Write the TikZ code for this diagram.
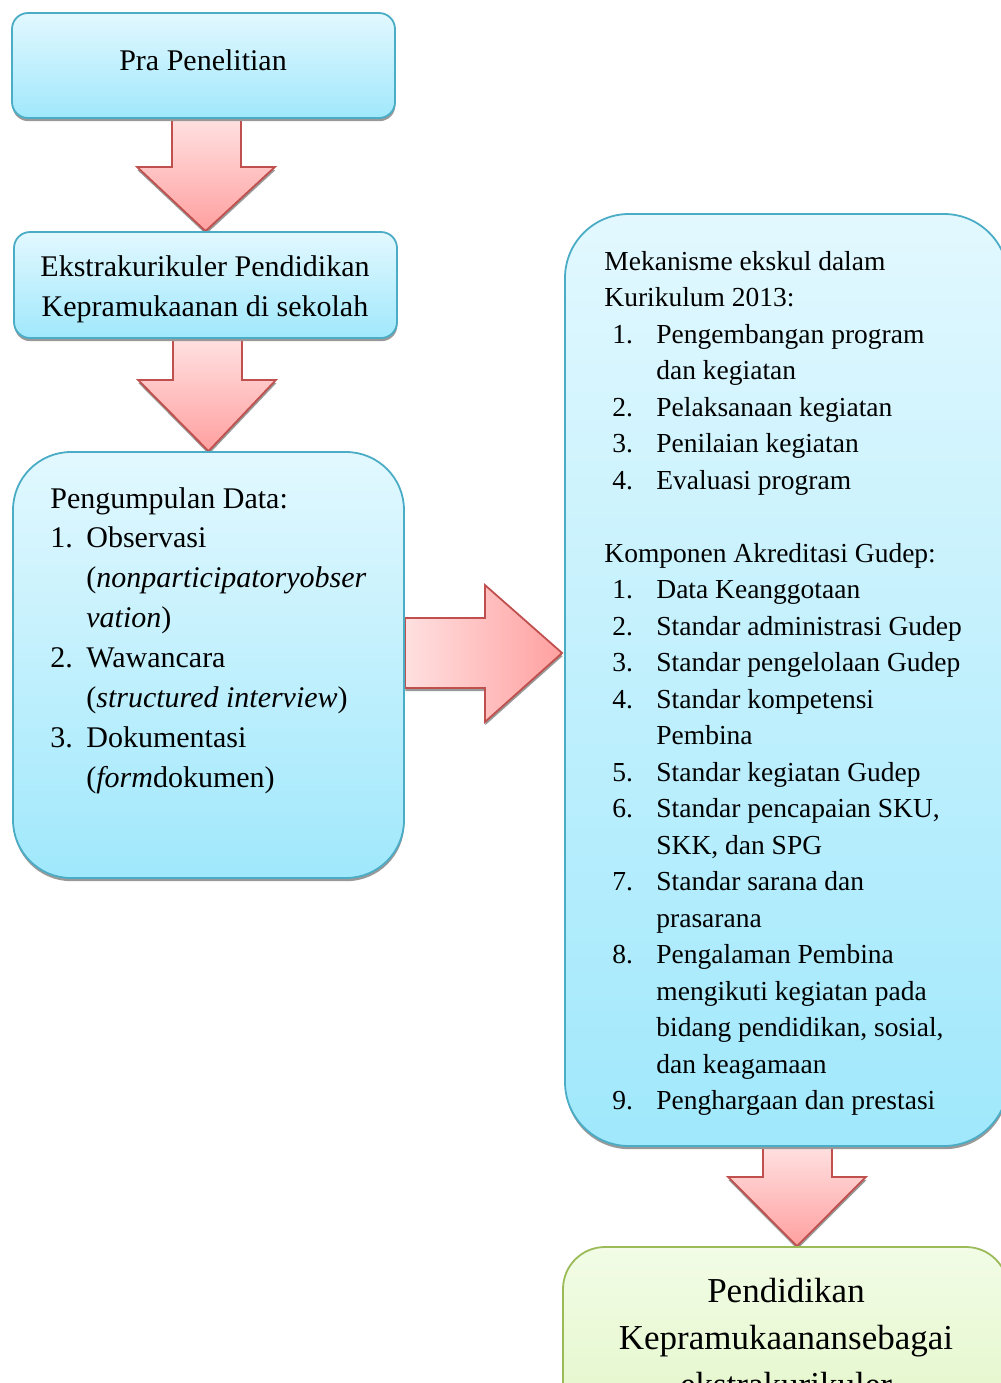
\documentclass[tikz,border=0pt]{standalone}
\usepackage{fontspec}
\setmainfont{Liberation Serif}
\usetikzlibrary{calc,shadows,backgrounds}
\definecolor{bluetop}{HTML}{E2F8FE}
\definecolor{bluebot}{HTML}{A0E8FC}
\definecolor{blueedge}{HTML}{4BACC6}
\definecolor{redtop}{HTML}{FFE0E0}
\definecolor{redbot}{HTML}{FFA0A0}
\definecolor{rededge}{HTML}{C0504D}
\definecolor{greentop}{HTML}{F2FCE6}
\definecolor{greenbot}{HTML}{DDF4BE}
\definecolor{greenedge}{HTML}{9BBB59}
\newcommand\fsz[2]{\fontsize{#1}{#2}\selectfont}
\begin{document}
\begin{tikzpicture}[x=0.5pt,y=-0.5pt,
  shad/.style={drop shadow={shadow xshift=0.2pt,shadow yshift=-1.6pt,fill=black!40,opacity=1}},
  boxbase/.style={rectangle,inner sep=0pt,line width=0.9pt,shad},
  bluebox/.style={boxbase,draw=blueedge,top color=bluetop,bottom color=bluebot},
  greenbox/.style={boxbase,draw=greenedge,top color=greentop,bottom color=greenbot},
  downarr/.style={draw=rededge,line width=0.9pt,top color=redtop,bottom color=redbot,shad,line join=miter},
  rightarr/.style={draw=rededge,line width=0.9pt,left color=redtop,right color=redbot,shad,line join=miter},
  txt/.style={inner sep=0pt}]
\useasboundingbox (0,0) rectangle (1001,1383);
\clip (0,0) rectangle (1001,1383);

% boxes
\node[bluebox,minimum width=191.5pt,minimum height=52.5pt,rounded corners=8pt] (b1) at (203.5,65.5) {};
\node[bluebox,minimum width=191.5pt,minimum height=53pt,rounded corners=8pt] (b2) at (205.5,285) {};
\node[bluebox,minimum width=195.5pt,minimum height=213pt,rounded corners=29pt] (b3) at (208.5,665) {};
\node[bluebox,minimum width=221.5pt,minimum height=466pt,rounded corners=32pt] (b4) at (786.5,680) {};
\node[greenbox,minimum width=222.5pt,minimum height=126.5pt,rounded corners=21pt] (b5) at (785.5,1373.5) {};

% texts
\node[txt,anchor=base] (t1) at (203,70) {\fsz{15}{20}Pra Penelitian};
\node[txt,anchor=base] (t2) at (205,276) {\parbox[t]{190pt}{\centering\fsz{15}{20}Ekstrakurikuler Pendidikan\\Kepramukaanan di sekolah}};
\node[txt,anchor=base west] (t3) at (50,508) {\parbox[t]{180pt}{\fsz{15}{19.93}\raggedright
Pengumpulan Data:\\
\makebox[18pt][l]{1.}Observasi\\
\hspace*{18pt}(\textit{nonparticipatoryobser}\\
\hspace*{18pt}\textit{vation})\\
\makebox[18pt][l]{2.}Wawancara\\
\hspace*{18pt}(\textit{structured interview})\\
\makebox[18pt][l]{3.}Dokumentasi\\
\hspace*{18pt}(\textit{form}dokumen)}};
\node[txt,anchor=base west] (t4) at (604,270) {\parbox[t]{210pt}{\fsz{13.75}{18.26}\raggedright
Mekanisme ekskul dalam\\
Kurikulum 2013:\\
\hspace*{4pt}\makebox[22pt][l]{1.}Pengembangan program\\
\hspace*{26pt}dan kegiatan\\
\hspace*{4pt}\makebox[22pt][l]{2.}Pelaksanaan kegiatan\\
\hspace*{4pt}\makebox[22pt][l]{3.}Penilaian kegiatan\\
\hspace*{4pt}\makebox[22pt][l]{4.}Evaluasi program\\
\mbox{}\\
Komponen Akreditasi Gudep:\\
\hspace*{4pt}\makebox[22pt][l]{1.}Data Keanggotaan\\
\hspace*{4pt}\makebox[22pt][l]{2.}Standar administrasi Gudep\\
\hspace*{4pt}\makebox[22pt][l]{3.}Standar pengelolaan Gudep\\
\hspace*{4pt}\makebox[22pt][l]{4.}Standar kompetensi\\
\hspace*{26pt}Pembina\\
\hspace*{4pt}\makebox[22pt][l]{5.}Standar kegiatan Gudep\\
\hspace*{4pt}\makebox[22pt][l]{6.}Standar pencapaian SKU,\\
\hspace*{26pt}SKK, dan SPG\\
\hspace*{4pt}\makebox[22pt][l]{7.}Standar sarana dan\\
\hspace*{26pt}prasarana\\
\hspace*{4pt}\makebox[22pt][l]{8.}Pengalaman Pembina\\
\hspace*{26pt}mengikuti kegiatan pada\\
\hspace*{26pt}bidang pendidikan, sosial,\\
\hspace*{26pt}dan keagamaan\\
\hspace*{4pt}\makebox[22pt][l]{9.}Penghargaan dan prestasi}};
\node[txt,anchor=base] (t5) at (786,1302) {\parbox[t]{220pt}{\centering\fsz{17.5}{23.5}Pendidikan\\Kepramukaanansebagai\\ekstrakurikuler}};

% block arrows
\begin{scope}[on background layer]
\path[downarr] ($(b1.south)+(-31.5,0)$) -- ($(b1.south)+(37.5,0)$) -- ($(b1.south)+(37.5,48)$) -- ($(b1.south)+(71.5,48)$) -- (b2.north) -- ($(b1.south)+(-66.5,48)$) -- ($(b1.south)+(-31.5,48)$) -- cycle;
\path[downarr] ($(b2.south)+(-32.5,0)$) -- ($(b2.south)+(36.5,0)$) -- ($(b2.south)+(36.5,41)$) -- ($(b2.south)+(70.5,41)$) -- (b3.north) -- ($(b2.south)+(-67.5,41)$) -- ($(b2.south)+(-32.5,41)$) -- cycle;
\path[rightarr] ($(b3.east)+(0,-47)$) -- ($(b3.east)+(80,-47)$) -- ($(b3.east)+(80,-80)$) -- ($(b4.west)+(-2,-27)$) -- ($(b3.east)+(80,57)$) -- ($(b3.east)+(80,23)$) -- ($(b3.east)+(0,23)$) -- cycle;
\path[downarr] ($(b4.south)+(-23.5,0)$) -- ($(b4.south)+(45.5,0)$) -- ($(b4.south)+(45.5,30)$) -- ($(b4.south)+(79.5,30)$) -- ($(b5.north)+(11.5,0)$) -- ($(b4.south)+(-58.5,30)$) -- ($(b4.south)+(-23.5,30)$) -- cycle;
\end{scope}
\end{tikzpicture}
\end{document}
